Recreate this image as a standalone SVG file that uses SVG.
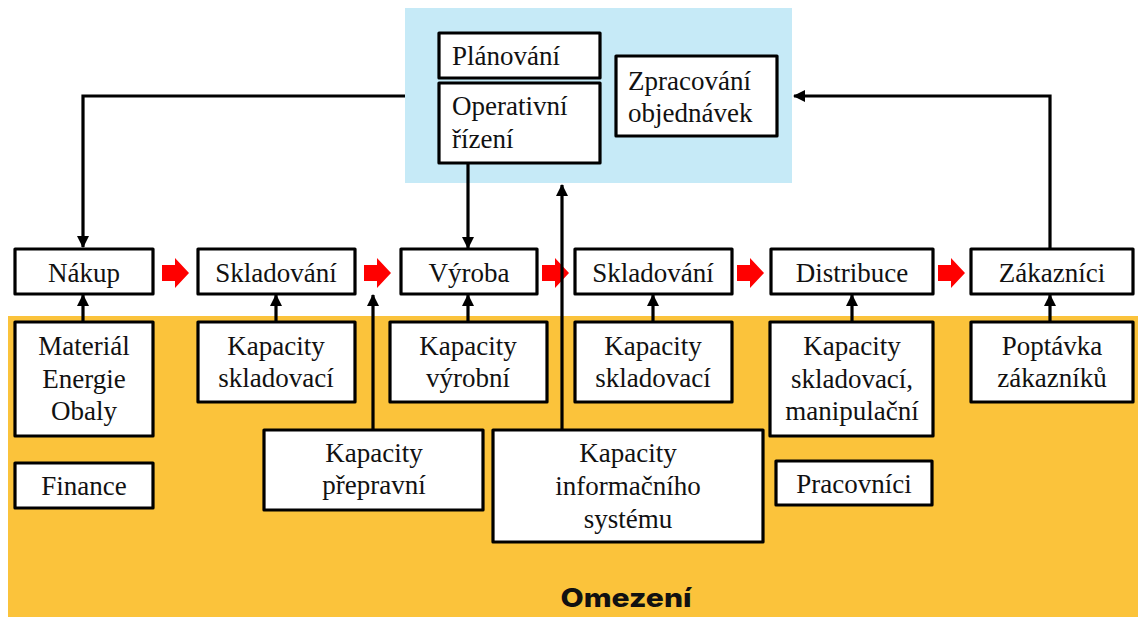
<svg xmlns="http://www.w3.org/2000/svg" width="1138" height="617" viewBox="0 0 1138 617">
  <defs>
    <style>
      .box { fill: #ffffff; stroke: #000000; stroke-width: 3.2; stroke-linejoin: round; }
      .c { text-anchor: middle; }
      .link { fill: none; stroke: #000000; stroke-width: 3.2; }
      .flow { fill: #ff0000; }
    </style>
    <marker id="head" viewBox="0 0 12 12" refX="11" refY="6" markerWidth="12" markerHeight="12" markerUnits="userSpaceOnUse" orient="auto">
      <path d="M0,0 L12,6 L0,12 Z" fill="#000000"/>
    </marker>
    <path id="redArrow" d="M0,-8 L13,-8 L13,-15 L27,0 L13,15 L13,8 L0,8 Z"/>
  </defs>

  <rect width="1138" height="617" fill="#ffffff"/>

  <!-- background zones -->
  <rect x="405" y="8" width="387" height="175" fill="#c6eaf7"/>
  <rect x="8" y="316" width="1130" height="301" fill="#fbc33b"/>
  <text x="626" y="607" text-anchor="middle" font-family="Inter, 'Open Sans', sans-serif" font-weight="800" font-size="26" textLength="131" lengthAdjust="spacingAndGlyphs" fill="#111111">Omezení</text>

  <!-- red flow arrows between stages -->
  <g class="flow">
    <use href="#redArrow" x="162" y="273"/>
    <use href="#redArrow" x="364" y="273"/>
    <use href="#redArrow" x="542" y="273"/>
    <use href="#redArrow" x="737" y="273"/>
    <use href="#redArrow" x="938" y="273"/>
  </g>

  <!-- connectors -->
  <g id="connectors">
    <path class="link" d="M405,96 H83 V247" marker-end="url(#head)"/>
    <path class="link" d="M1050,249 V96 H794" marker-end="url(#head)"/>
    <path class="link" d="M468,163 V248" marker-end="url(#head)"/>
    <path class="link" d="M562,430 V185" marker-end="url(#head)"/>
    <path class="link" d="M373,430 V295" marker-end="url(#head)"/>
    <path class="link" d="M83,322 V295" marker-end="url(#head)"/>
    <path class="link" d="M276,322 V295" marker-end="url(#head)"/>
    <path class="link" d="M468,322 V295" marker-end="url(#head)"/>
    <path class="link" d="M653,322 V295" marker-end="url(#head)"/>
    <path class="link" d="M852,322 V295" marker-end="url(#head)"/>
    <path class="link" d="M1050,322 V295" marker-end="url(#head)"/>
  </g>

  <g font-family="'Liberation Serif', Tinos, 'Noto Serif', 'DejaVu Serif', Times, serif" font-size="27" fill="#111111">
  <!-- control nodes -->
  <g id="planovani">
    <rect class="box" x="439" y="33" width="161" height="45"/>
    <text x="452" y="65">Plánování</text>
  </g>
  <g id="operativni-rizeni">
    <rect class="box" x="439" y="83" width="161" height="80"/>
    <text x="452" y="115">Operativní</text>
    <text x="452" y="148">řízení</text>
  </g>
  <g id="zpracovani-objednavek">
    <rect class="box" x="616" y="56" width="161" height="80"/>
    <text x="628" y="90">Zpracování</text>
    <text x="628" y="122">objednávek</text>
  </g>

  <!-- main chain -->
  <g id="nakup">
    <rect class="box" x="15" y="249" width="138" height="45"/>
    <text class="c" x="84" y="282">Nákup</text>
  </g>
  <g id="skladovani-1">
    <rect class="box" x="198" y="249" width="157" height="45"/>
    <text class="c" x="276" y="282">Skladování</text>
  </g>
  <g id="vyroba">
    <rect class="box" x="401" y="249" width="136" height="45"/>
    <text class="c" x="469" y="282">Výroba</text>
  </g>
  <g id="skladovani-2">
    <rect class="box" x="575" y="249" width="157" height="45"/>
    <text class="c" x="653" y="282">Skladování</text>
  </g>
  <g id="distribuce">
    <rect class="box" x="771" y="249" width="162" height="45"/>
    <text class="c" x="852" y="282">Distribuce</text>
  </g>
  <g id="zakaznici">
    <rect class="box" x="971" y="249" width="162" height="45"/>
    <text class="c" x="1052" y="282">Zákazníci</text>
  </g>

  <!-- constraints -->
  <g id="material">
    <rect class="box" x="15" y="322" width="138" height="114"/>
    <text class="c" x="84" y="355">Materiál</text>
    <text class="c" x="84" y="388">Energie</text>
    <text class="c" x="84" y="420">Obaly</text>
  </g>
  <g id="finance">
    <rect class="box" x="15" y="463" width="138" height="45"/>
    <text class="c" x="84" y="495">Finance</text>
  </g>
  <g id="kapacity-skladovaci-1">
    <rect class="box" x="198" y="322" width="157" height="80"/>
    <text class="c" x="276" y="355">Kapacity</text>
    <text class="c" x="276" y="387">skladovací</text>
  </g>
  <g id="kapacity-vyrobni">
    <rect class="box" x="390" y="322" width="157" height="80"/>
    <text class="c" x="468" y="355">Kapacity</text>
    <text class="c" x="468" y="387">výrobní</text>
  </g>
  <g id="kapacity-skladovaci-2">
    <rect class="box" x="575" y="322" width="157" height="80"/>
    <text class="c" x="653" y="355">Kapacity</text>
    <text class="c" x="653" y="387">skladovací</text>
  </g>
  <g id="kapacity-manipulacni">
    <rect class="box" x="770" y="322" width="163" height="114"/>
    <text class="c" x="852" y="355">Kapacity</text>
    <text class="c" x="852" y="388">skladovací,</text>
    <text class="c" x="852" y="420">manipulační</text>
  </g>
  <g id="poptavka">
    <rect class="box" x="971" y="322" width="162" height="80"/>
    <text class="c" x="1052" y="355">Poptávka</text>
    <text class="c" x="1052" y="387">zákazníků</text>
  </g>
  <g id="kapacity-prepravni">
    <rect class="box" x="264" y="430" width="219" height="80"/>
    <text class="c" x="374" y="462">Kapacity</text>
    <text class="c" x="374" y="494">přepravní</text>
  </g>
  <g id="kapacity-is">
    <rect class="box" x="493" y="430" width="270" height="112"/>
    <text class="c" x="628" y="462">Kapacity</text>
    <text class="c" x="628" y="495">informačního</text>
    <text class="c" x="628" y="528">systému</text>
  </g>
  <g id="pracovnici">
    <rect class="box" x="776" y="461" width="156" height="44"/>
    <text class="c" x="854" y="493">Pracovníci</text>
  </g>
  </g>
</svg>
